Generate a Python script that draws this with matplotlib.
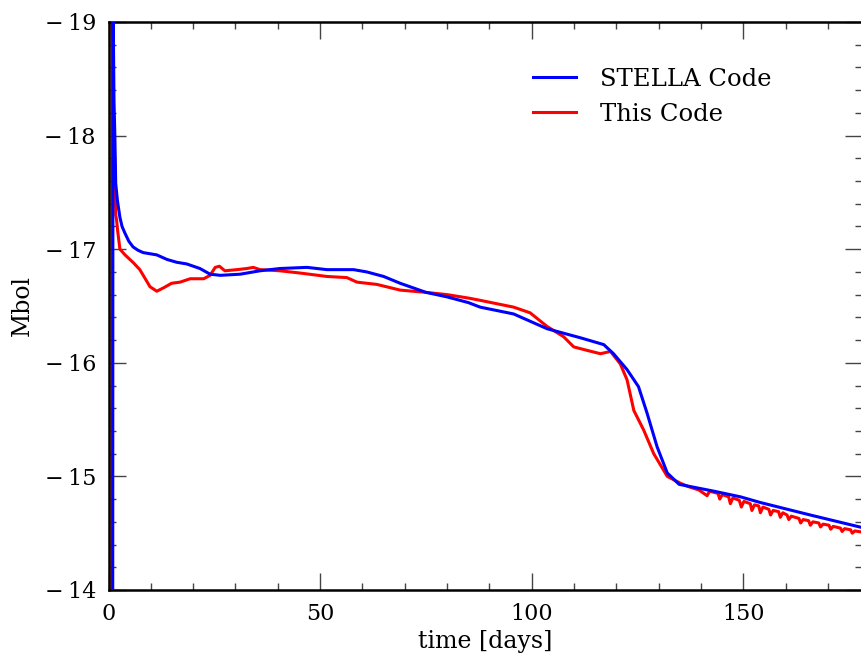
import matplotlib
matplotlib.use("Agg")
import matplotlib.pyplot as plt
from matplotlib.ticker import MultipleLocator, FuncFormatter

plt.rcParams['font.family'] = ['DejaVu Serif']

# STELLA Code
stella_t = [1.0, 1.05, 1.3, 1.5, 1.7, 2.1, 2.7, 3.2, 3.9, 4.8, 5.8, 7.0, 8.2, 11.4, 13.8, 16.1, 18.5,
            21.6, 24.0, 26.4, 31.1, 35.8, 40.5, 46.9, 51.6, 57.9, 61.0, 65.0, 68.9,
            75.0, 80.0, 85.0, 87.8, 95.7, 103.6, 111.5, 117.0, 119.3, 122.5, 125.2,
            127.2, 129.6, 132.0, 134.8, 143.0, 149.3, 154.0, 165.8, 178.0]
stella_m = [-14.0, -19.3, -18.3, -18.0, -17.58, -17.43, -17.28, -17.2, -17.14, -17.07, -17.02,
            -16.99, -16.97, -16.95, -16.91, -16.885, -16.87, -16.83, -16.78, -16.77, -16.78,
            -16.81, -16.83, -16.84, -16.82, -16.82, -16.80, -16.76, -16.70, -16.62, -16.58,
            -16.53, -16.49, -16.43, -16.30, -16.22, -16.16, -16.08, -15.94, -15.79,
            -15.56, -15.26, -15.03, -14.93, -14.87, -14.82, -14.77, -14.66, -14.55]

# This Code
this_t = [0.8, 0.85, 1.2, 1.5, 1.7, 1.9, 2.2, 2.7, 3.9, 5.9, 7.4, 9.8, 11.4, 13.0, 14.9,
          16.9, 19.3, 22.5, 24.0, 25.2, 26.2, 27.5, 30.3, 32.7, 34.2, 35.8, 40.5, 45.3,
          51.6, 56.3, 58.7, 63.4, 68.9, 75.0, 80.0, 85.0, 87.8, 95.7, 99.6, 103.6,
          107.5, 109.9, 113.0, 116.2, 118.6, 120.9, 122.5, 124.1, 126.4, 128.8, 132.0,
          135.1, 137.0, 139.5, 141.4, 142.0, 144.0, 144.4, 145.0, 146.5, 146.9, 147.5,
          149.0, 149.5, 150.1, 151.6, 152.0, 152.6, 153.6, 154.0, 154.6, 156.0, 156.4,
          157.0, 158.3, 158.7, 159.3, 160.3, 160.7, 161.3, 163.1, 163.5, 164.1, 165.4,
          165.8, 166.4, 167.8, 168.2, 168.8, 170.2, 170.6, 171.2, 172.9, 173.3, 173.9,
          175.3, 175.7, 176.3, 178.0]
this_m = [-14.0, -19.2, -18.0, -17.76, -17.3, -17.26, -17.15, -17.0, -16.95, -16.88,
          -16.82, -16.67, -16.63, -16.66, -16.70, -16.71, -16.74, -16.74, -16.77, -16.84,
          -16.85, -16.81, -16.82, -16.83, -16.84, -16.82, -16.81, -16.79, -16.76, -16.75,
          -16.71, -16.69, -16.64, -16.62, -16.60, -16.57, -16.55, -16.49, -16.44, -16.32,
          -16.23, -16.14, -16.11, -16.08, -16.10, -15.99, -15.85, -15.58, -15.41, -15.20,
          -15.00, -14.94, -14.91, -14.88, -14.83, -14.87, -14.85, -14.80, -14.84, -14.82,
          -14.76, -14.81, -14.79, -14.73, -14.78, -14.76, -14.70, -14.75, -14.74, -14.68,
          -14.73, -14.71, -14.66, -14.70, -14.69, -14.64, -14.68, -14.66, -14.62, -14.65,
          -14.63, -14.59, -14.62, -14.61, -14.57, -14.60, -14.59, -14.555, -14.58, -14.57,
          -14.535, -14.56, -14.545, -14.515, -14.54, -14.53, -14.50, -14.52, -14.51]

fig = plt.figure(figsize=(8.62, 6.63), dpi=100)
ax = fig.add_axes([108.5 / 862, 1 - 590 / 663, 1 - 108.5 / 862, (590 - 22) / 663])

ax.plot(stella_t, stella_m, color='#0000ff', lw=2.2, label='STELLA Code', zorder=3)
ax.plot(this_t, this_m, color='#ff0000', lw=2.2, label='This Code', zorder=2)

ax.set_xlim(0, 178)
ax.set_ylim(-14, -19)

ax.xaxis.set_major_locator(MultipleLocator(50))
ax.xaxis.set_minor_locator(MultipleLocator(10))
ax.yaxis.set_major_locator(MultipleLocator(1))
ax.yaxis.set_minor_locator(MultipleLocator(0.2))
ax.yaxis.set_major_formatter(FuncFormatter(lambda v, p: '\u2212\u2009' + '%d' % abs(round(v))))
ax.xaxis.set_major_formatter(FuncFormatter(lambda v, p: '%d' % round(v)))

ax.tick_params(which='both', direction='in', top=True, right=True, labelsize=16,
               color='#444444', width=1.0)
ax.tick_params(which='major', length=12, pad=9)
ax.tick_params(which='minor', length=5)
for s in ax.spines.values():
    s.set_linewidth(1.8)

ax.set_xlabel('time [days]', fontsize=17, labelpad=4)
ax.set_ylabel('Mbol', fontsize=17, labelpad=8)

leg = ax.legend(loc='upper left', bbox_to_anchor=(0.535, 0.958), frameon=False,
                fontsize=17.5, handlelength=1.75, handletextpad=1.0, labelspacing=0.5)

fig.savefig('out.png', dpi=100)
